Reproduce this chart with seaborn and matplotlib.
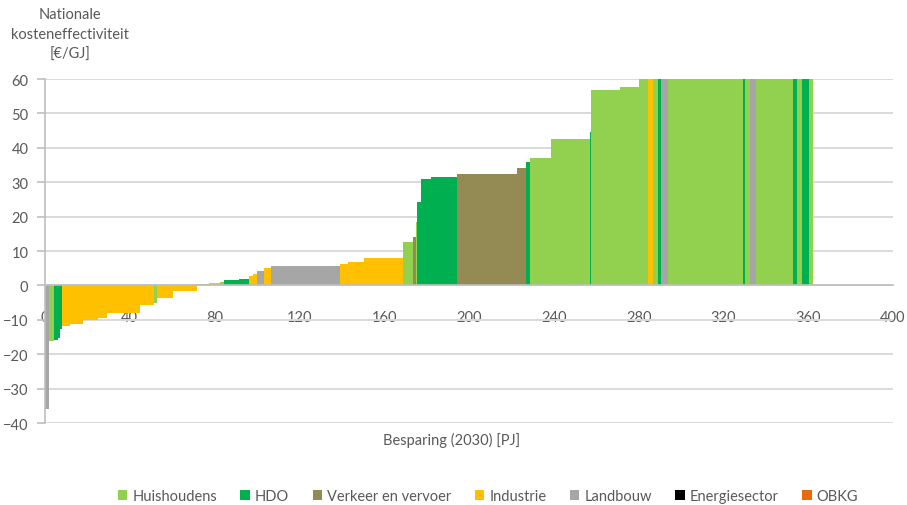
import numpy as np
import pandas as pd
import matplotlib
matplotlib.use("Agg")
import matplotlib.pyplot as plt
from matplotlib.patches import Patch
import seaborn as sns

# ---- data ----
widths = [1.8, 2.5, 1.7, 1.0, 1.2, 3.6, 6.3, 7.1, 3.9, 15.8, 6.3, 1.8, 7.3, 11.2,
          5.9, 5.3, 1.9, 6.9, 4.5, 2.0, 2.0, 3.1, 3.5, 32.4, 4.0, 7.4, 18.4, 4.7,
          1.3, 0.8, 1.9, 4.4, 12.6, 28.3, 4.3, 1.5, 10.3, 18.2, 0.4, 13.8, 9.0,
          4.2, 2.1, 2.4, 1.8, 2.9, 35.4, 1.2, 2.4, 2.7, 17.6, 1.7, 2.3, 3.6, 1.6]
values = [-36, -16.2, -16.0, -15.2, -12.8, -11.8, -11.2, -10.2, -9.4, -8.0, -5.8,
          -5.0, -3.6, -1.7, 0.4, 0.8, 1.0, 1.5, 2.0, 2.7, 3.3, 4.2, 5.1, 5.6, 6.2,
          6.7, 7.9, 12.6, 14.1, 18.3, 24.1, 30.9, 31.4, 32.4, 34.0, 35.9, 36.9,
          42.6, 44.5, 56.9, 57.6, 62, 65, 68, 70, 72, 75, 80, 85, 90, 95, 100,
          110, 120, 130]
sector_codes = ["L", "H", "D", "D", "D", "I", "I", "I", "I", "I", "I", "H", "I", "I",
                "H", "I", "H", "D", "D", "I", "I", "L", "I", "L", "I", "I", "I", "H",
                "V", "H", "D", "D", "D", "V", "V", "D", "H", "H", "D", "H", "H",
                "H", "I", "H", "D", "L", "H", "D", "H", "L", "H", "D", "H", "D", "H"]

sector_names = ["Huishoudens", "HDO", "Verkeer en vervoer", "Industrie",
                "Landbouw", "Energiesector", "OBKG"]
sector_keys = ["H", "D", "V", "I", "L", "E", "O"]
sector_colors = ["#92D050", "#00B050", "#948A54", "#FFC000", "#A6A6A6",
                 "#000000", "#E46C0A"]

x_ticks = [0, 40, 80, 120, 160, 200, 240, 280, 320, 360, 400]
y_ticks = [-40, -30, -20, -10, 0, 10, 20, 30, 40, 50, 60]

df = pd.DataFrame({"width": widths, "value": values, "sector": sector_codes})
df["start"] = np.concatenate([[0], np.cumsum(df["width"].values)[:-1]])
cmap = dict(zip(sector_keys, sector_colors))

# ---- style ----
sns.set_theme(style="white")
plt.rcParams["font.family"] = ["Lato", "DejaVu Sans"]
txt = "#595959"

fig = plt.figure(figsize=(9.07, 5.06), dpi=100)
ax = fig.add_axes([45 / 907, 1 - 424 / 506, (893 - 45) / 907, (424 - 80) / 506])

ax.set_axisbelow(True)
ax.yaxis.grid(True, color="#D9D9D9", linewidth=1.4)
ax.xaxis.grid(False)

ax.bar(df["start"], df["value"], width=df["width"], align="edge",
       color=[cmap[s] for s in df["sector"]], linewidth=0, zorder=2)

ax.set_xlim(0, 400)
ax.set_ylim(-40, 60)
ax.set_xticks(x_ticks)
ax.set_yticks(y_ticks)

for s in ["top", "right"]:
    ax.spines[s].set_visible(False)
ax.spines["left"].set_color("#BFBFBF")
ax.spines["left"].set_linewidth(1.2)
ax.spines["bottom"].set_position(("data", 0))
ax.spines["bottom"].set_color("#BFBFBF")
ax.spines["bottom"].set_linewidth(1.2)

ax.tick_params(axis="y", which="both", left=True, length=6, width=1.2,
               color="#BFBFBF", labelsize=10.5, labelcolor=txt, pad=6)
ax.tick_params(axis="x", which="both", bottom=False, labelsize=10.5,
               labelcolor=txt, pad=12)
for lab in ax.get_xticklabels():
    lab.set_zorder(5)

fig.text(70 / 907, 1 - 8 / 506, "Nationale\nkosteneffectiviteit\n[€/GJ]",
         ha="center", va="top", fontsize=10.5, color=txt, linespacing=1.55)
fig.text(452 / 907, 1 - 440 / 506, "Besparing (2030) [PJ]", ha="center",
         va="center", fontsize=10.5, color=txt)

handles = [Patch(facecolor=c, edgecolor="none", label=n)
           for n, c in zip(sector_names, sector_colors)]
fig.legend(handles=handles, loc="center", bbox_to_anchor=(488 / 907, 1 - 497 / 506),
           ncol=7, frameon=False, fontsize=10.5, labelcolor=txt,
           handlelength=0.65, handleheight=0.65, handletextpad=0.35,
           columnspacing=1.6)

fig.savefig("out.png", dpi=100)
